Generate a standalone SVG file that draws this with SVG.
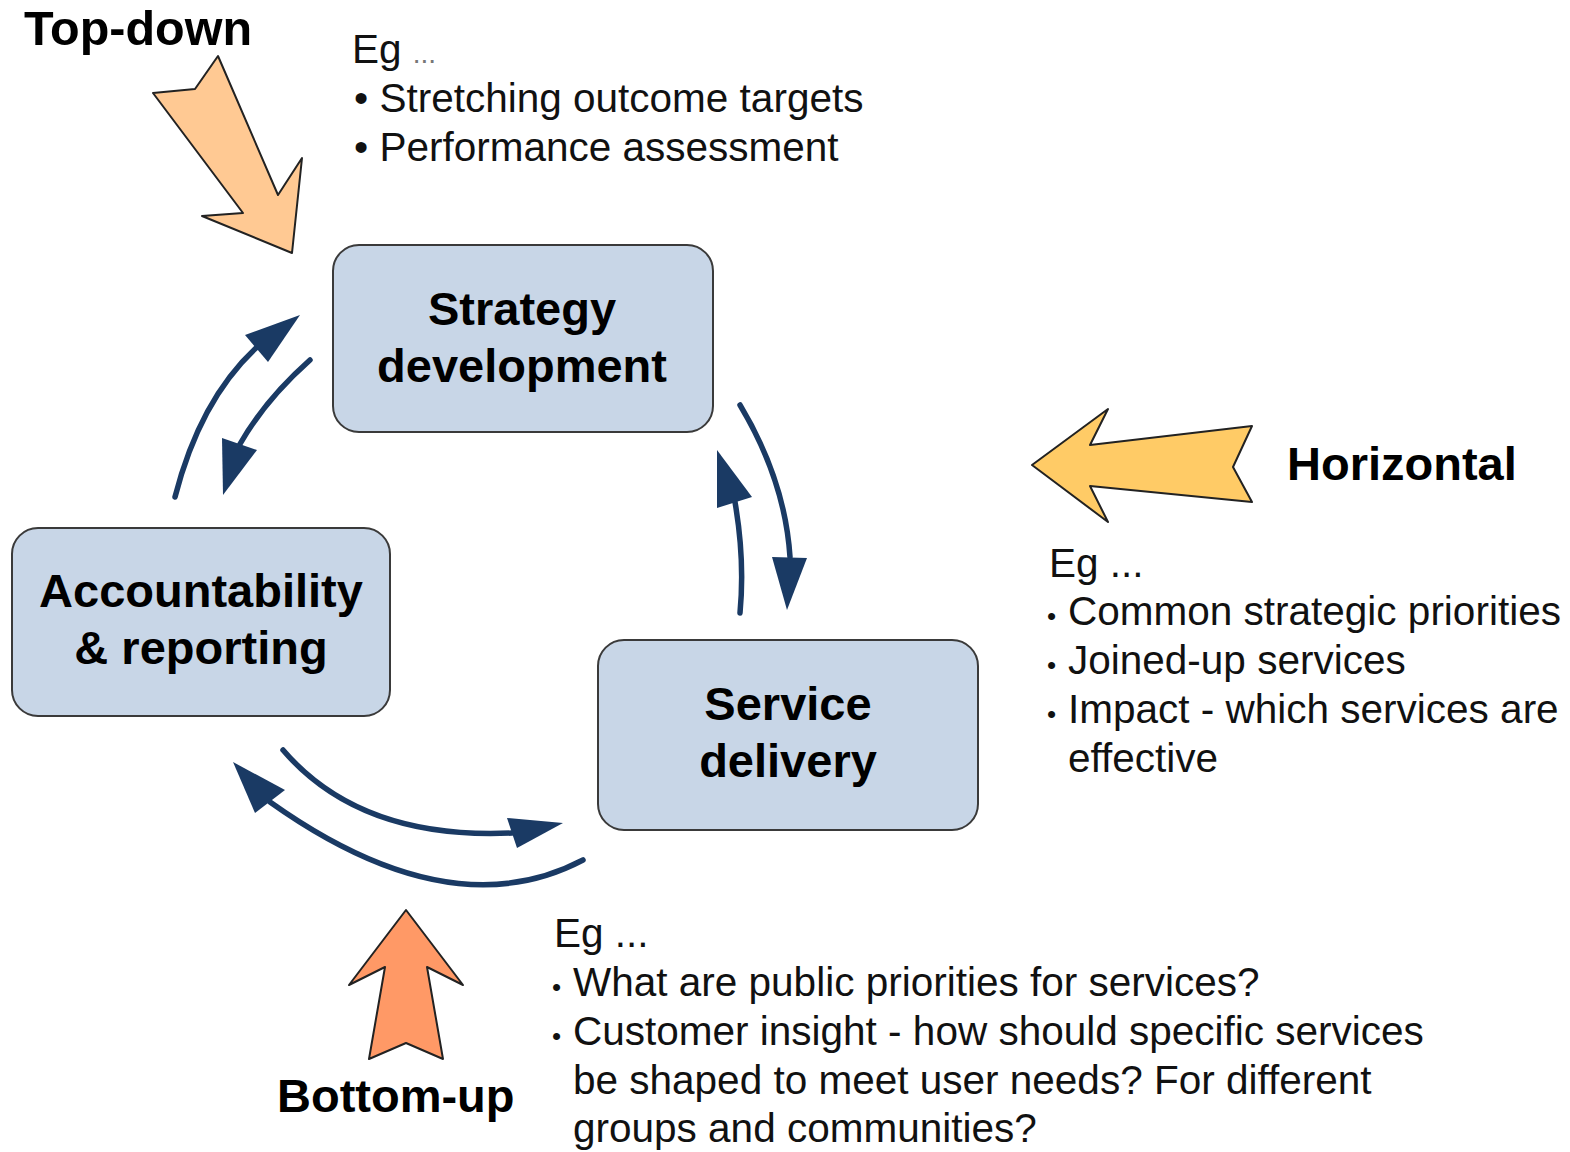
<svg xmlns="http://www.w3.org/2000/svg" width="1570" height="1152" viewBox="0 0 1570 1152">
<style>
.box{fill:#C8D6E7;stroke:#3a3a3a;stroke-width:2}
.nt{font-family:"Liberation Sans",Arial,sans-serif;font-weight:bold;font-size:47px;fill:#000;text-anchor:middle}
.lbl{font-family:"Liberation Sans",Arial,sans-serif;font-weight:bold;font-size:47px;fill:#000}
.body{font-family:"Liberation Sans",Arial,sans-serif;font-size:40.5px;fill:#111}
.sb{font-family:"Liberation Sans",Arial,sans-serif;font-size:26px;fill:#111}
.ln{fill:none;stroke:#1A3A64;stroke-width:5.5;stroke-linecap:round}
.hd{fill:#1A3A64}
.big{stroke:#222;stroke-width:2;stroke-linejoin:round}
</style>
<rect width="1570" height="1152" fill="#fff"/>
<g id="top-down">
<polygon class="big" fill="#FFC993" points="218,56 278,195 302,158 292,253 202,216 243,213 153,93 195,89"/>
<text class="lbl" x="24" y="45" style="font-size:48.5px">Top-down</text>
</g>
<g id="horizontal">
<polygon class="big" fill="#FFCB66" points="1032,465 1108,409 1090,445 1252,426 1233,467 1252,502 1090,486 1108,522"/>
<text class="lbl" x="1287" y="480">Horizontal</text>
</g>
<g id="bottom-up">
<polygon class="big" fill="#FF9966" points="406,910 463,985 427,967 443,1059 406,1043 369,1059 385,967 349,985"/>
<text class="lbl" x="277" y="1112">Bottom-up</text>
</g>
<g id="strategy">
<rect class="box" x="333" y="245" width="380" height="187" rx="26"/>
<text class="nt" x="522" y="325">Strategy</text>
<text class="nt" x="522" y="382">development</text>
</g>
<g id="accountability">
<rect class="box" x="12" y="528" width="378" height="188" rx="26"/>
<text class="nt" x="201" y="607">Accountability</text>
<text class="nt" x="201" y="664">&amp; reporting</text>
</g>
<g id="service">
<rect class="box" x="598" y="640" width="380" height="190" rx="26"/>
<text class="nt" x="788" y="720">Service</text>
<text class="nt" x="788" y="777">delivery</text>
</g>
<g id="connectors">
<path class="ln" d="M175,497 Q200,400 256,348"/>
<polygon class="hd" points="300,315 245,335 268,362"/>
<path class="ln" d="M310,360 Q265,400 240,444"/>
<polygon class="hd" points="223,495 222,438 257,450"/>
<path class="ln" d="M740,613 Q745,560 735,502"/>
<polygon class="hd" points="717,450 717,508 752,497"/>
<path class="ln" d="M740,405 Q785,480 790,557"/>
<polygon class="hd" points="787,610 772,557 807,558"/>
<path class="ln" d="M283,750 Q360,840 512,833"/>
<polygon class="hd" points="563,823 507,818 517,848"/>
<path class="ln" d="M583,860 Q450,930 270,802"/>
<polygon class="hd" points="233,762 255,813 285,790"/>
</g>
<g id="notes-top">
<text class="body" x="352" y="63">Eg <tspan fill="#777" font-size="28">...</tspan></text>
<text class="body" x="354" y="112">• Stretching outcome targets</text>
<text class="body" x="354" y="161">• Performance assessment</text>
</g>
<g id="notes-right">
<text class="body" x="1049" y="577">Eg ...</text>
<text class="sb" x="1047" y="625">•</text>
<text class="body" x="1068" y="625">Common strategic priorities</text>
<text class="sb" x="1047" y="674">•</text>
<text class="body" x="1068" y="674">Joined-up services</text>
<text class="sb" x="1047" y="723">•</text>
<text class="body" x="1068" y="723">Impact - which services are</text>
<text class="body" x="1068" y="772">effective</text>
</g>
<g id="notes-bottom">
<text class="body" x="554" y="947">Eg ...</text>
<text class="sb" x="552" y="996">•</text>
<text class="body" x="573" y="996">What are public priorities for services?</text>
<text class="sb" x="552" y="1045">•</text>
<text class="body" x="573" y="1045">Customer insight - how should specific services</text>
<text class="body" x="573" y="1094">be shaped to meet user needs? For different</text>
<text class="body" x="573" y="1142">groups and communities?</text>
</g>
</svg>
